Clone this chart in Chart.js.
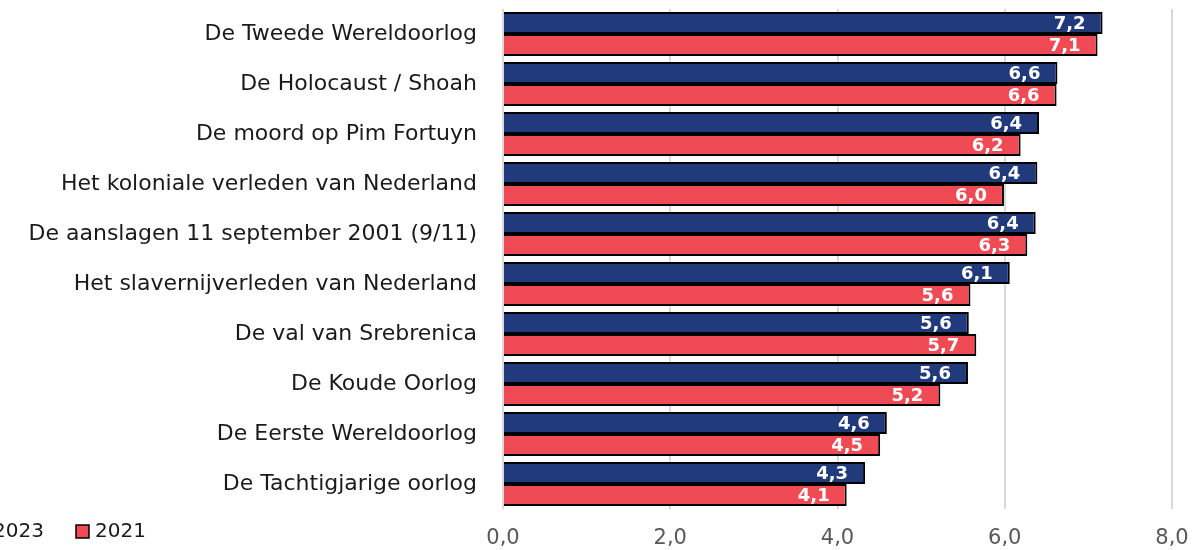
<!DOCTYPE html>
<html>
<head>
<meta charset="utf-8">
<script src="https://cdn.jsdelivr.net/npm/chart.js@4"></script>
<style>
  html, body { margin: 0; padding: 0; background: #fff; }
  #wrap { width: 1193px; height: 550px; }
</style>
</head>
<body>
<div id="wrap"><canvas id="chart" width="1193" height="550"></canvas></div>
<script>
// categorieën, van boven naar beneden
const categories = [
    'De Tweede Wereldoorlog',
    'De Holocaust / Shoah',
    'De moord op Pim Fortuyn',
    'Het koloniale verleden van Nederland',
    'De aanslagen 11 september 2001 (9/11)',
    'Het slavernijverleden van Nederland',
    'De val van Srebrenica',
    'De Koude Oorlog',
    'De Eerste Wereldoorlog',
    'De Tachtigjarige oorlog'
];
const seriesNames = ['2023', '2021'];
const values2023 = [7.17, 6.63, 6.41, 6.39, 6.37, 6.06, 5.57, 5.56, 4.59, 4.33];
const values2021 = [7.11, 6.62, 6.19, 5.99, 6.27, 5.59, 5.66, 5.23, 4.51, 4.11];
const xTicks = [0, 2, 4, 6, 8];

const FONT = '"DejaVu Sans", sans-serif';
const fmt = v => v.toFixed(1).replace('.', ',');

// waardelabels binnen het einde van de balk
const valueLabels = {
    id: 'valueLabels',
    afterDatasetsDraw(chart) {
        const ctx = chart.ctx;
        ctx.save();
        ctx.font = 'bold 18px ' + FONT;
        ctx.fillStyle = '#ffffff';
        ctx.textAlign = 'right';
        ctx.textBaseline = 'middle';
        chart.data.datasets.forEach((ds, di) => {
            chart.getDatasetMeta(di).data.forEach((bar, i) => {
                ctx.fillText(fmt(ds.data[i]), bar.x - 17, bar.y + 1);
            });
        });
        ctx.restore();
    }
};

// legenda linksonder (valt deels buiten beeld, zoals in het origineel)
const bottomLegend = {
    id: 'bottomLegend',
    afterDraw(chart) {
        const ctx = chart.ctx;
        ctx.save();
        ctx.font = '20px ' + FONT;
        ctx.textBaseline = 'middle';
        const y = 532;
        const starts = [-26, 76];
        chart.data.datasets.forEach((ds, di) => {
            const x = starts[di];
            ctx.fillStyle = ds.backgroundColor;
            ctx.fillRect(x, y - 7, 13, 13);
            ctx.strokeStyle = '#000';
            ctx.lineWidth = 1.5;
            ctx.strokeRect(x, y - 7, 13, 13);
            ctx.fillStyle = '#1a1a1a';
            ctx.textAlign = 'left';
            ctx.fillText(ds.label, x + 19, y);
        });
        ctx.restore();
    }
};

new Chart(document.getElementById('chart').getContext('2d'), {
    type: 'bar',
    data: {
        labels: categories,
        datasets: [
            {
                label: seriesNames[0],
                data: values2023,
                backgroundColor: '#213a7b',
                borderColor: '#000000',
                borderWidth: 2,
                borderSkipped: 'start'
            },
            {
                label: seriesNames[1],
                data: values2021,
                backgroundColor: '#f04b54',
                borderColor: '#000000',
                borderWidth: 2,
                borderSkipped: 'start'
            }
        ]
    },
    options: {
        indexAxis: 'y',
        responsive: false,
        animation: false,
        layout: { padding: { top: 9, right: 21, left: 0, bottom: 0 } },
        datasets: { bar: { categoryPercentage: 0.88, barPercentage: 1.0 } },
        scales: {
            x: {
                min: 0,
                max: 8,
                afterBuildTicks: scale => { scale.ticks = xTicks.map(v => ({ value: v })); },
                afterFit: scale => {
                    scale.height = 41;
                    scale.paddingLeft = 0;
                    scale.paddingRight = 0;
                },
                grid: { color: '#d9d9d9', lineWidth: 2, drawTicks: false },
                border: { display: false },
                ticks: {
                    padding: 17,
                    color: '#595959',
                    font: { family: FONT, size: 21 },
                    callback: v => fmt(v)
                }
            },
            y: {
                afterFit: scale => {
                    scale.width = 503;
                    scale.paddingTop = 0;
                    scale.paddingBottom = 0;
                },
                grid: { display: false, drawTicks: false },
                border: { display: false },
                ticks: {
                    padding: 26,
                    color: '#1a1a1a',
                    font: { family: FONT, size: 22 }
                }
            }
        },
        plugins: {
            legend: { display: false },
            tooltip: { enabled: false }
        }
    },
    plugins: [valueLabels, bottomLegend]
});
</script>
</body>
</html>
